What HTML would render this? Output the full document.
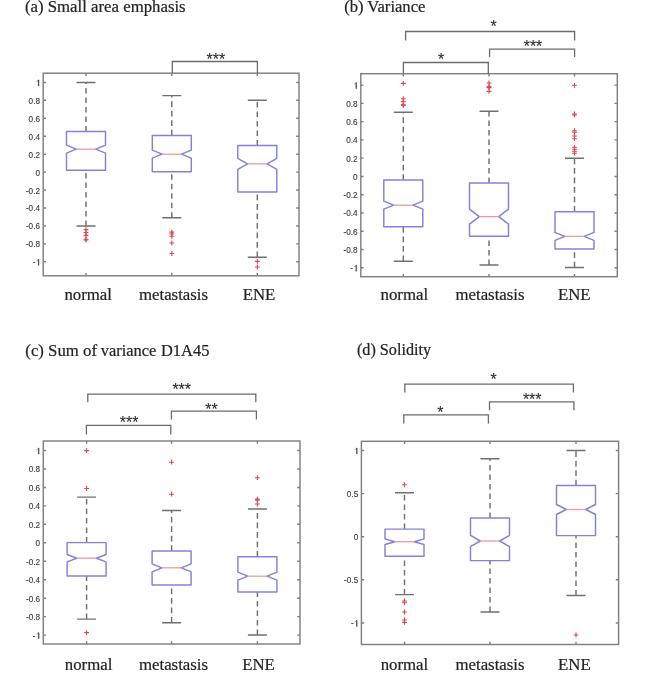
<!DOCTYPE html>
<html><head><meta charset="utf-8"><style>
html,body{margin:0;padding:0;background:#fff;}
body{width:650px;height:679px;overflow:hidden;}
svg{display:block;will-change:transform;}
.tl{font-family:"Liberation Sans",sans-serif;font-size:8.2px;fill:#3a3a3a;stroke:#3a3a3a;stroke-width:0.12px;text-anchor:end;}
.xl{font-family:"Liberation Serif",serif;font-size:16.8px;fill:#242424;stroke:#242424;stroke-width:0.22px;text-anchor:middle;}
.ttl{font-family:"Liberation Serif",serif;font-size:16.8px;fill:#242424;stroke:#242424;stroke-width:0.22px;}
.ast{font-family:"Liberation Sans",sans-serif;font-size:15.9px;fill:#2a2a2a;stroke:#2a2a2a;stroke-width:0.1px;text-anchor:middle;}
</style></head><body>
<svg width="650" height="679" viewBox="0 0 650 679">
<rect width="650" height="679" fill="#fff"/>
<rect x="43.2" y="73.2" width="255.8" height="202.6" fill="none" stroke="#808080" stroke-width="1.45"/>
<path d="M43.2 82.4h2.8M299 82.4h-2.8" stroke="#808080" stroke-width="1.45"/>
<path d="M38.27 85.9V80.03H38.97V85.9Z M38.8 80.03L36.34 81.64" fill="#3a3a3a" stroke="#3a3a3a" stroke-width="0.45"/>
<path d="M43.2 100.34h2.8M299 100.34h-2.8" stroke="#808080" stroke-width="1.45"/>
<text x="40" y="103.84" class="tl">0.8</text>
<path d="M43.2 118.28h2.8M299 118.28h-2.8" stroke="#808080" stroke-width="1.45"/>
<text x="40" y="121.78" class="tl">0.6</text>
<path d="M43.2 136.22h2.8M299 136.22h-2.8" stroke="#808080" stroke-width="1.45"/>
<text x="40" y="139.72" class="tl">0.4</text>
<path d="M43.2 154.16h2.8M299 154.16h-2.8" stroke="#808080" stroke-width="1.45"/>
<text x="40" y="157.66" class="tl">0.2</text>
<path d="M43.2 172.1h2.8M299 172.1h-2.8" stroke="#808080" stroke-width="1.45"/>
<text x="40" y="175.6" class="tl">0</text>
<path d="M43.2 190.04h2.8M299 190.04h-2.8" stroke="#808080" stroke-width="1.45"/>
<text x="40" y="193.54" class="tl">-0.2</text>
<path d="M43.2 207.98h2.8M299 207.98h-2.8" stroke="#808080" stroke-width="1.45"/>
<text x="40" y="211.48" class="tl">-0.4</text>
<path d="M43.2 225.92h2.8M299 225.92h-2.8" stroke="#808080" stroke-width="1.45"/>
<text x="40" y="229.42" class="tl">-0.6</text>
<path d="M43.2 243.86h2.8M299 243.86h-2.8" stroke="#808080" stroke-width="1.45"/>
<text x="40" y="247.36" class="tl">-0.8</text>
<path d="M43.2 261.8h2.8M299 261.8h-2.8" stroke="#808080" stroke-width="1.45"/>
<path d="M38.27 265.3V259.43H38.97V265.3Z M38.8 259.43L36.34 261.04" fill="#3a3a3a" stroke="#3a3a3a" stroke-width="0.45"/>
<text x="35.44" y="265.3" class="tl">-</text>
<path d="M86 275.8v-2.8M86 73.2v2.8" stroke="#808080" stroke-width="1.45"/>
<path d="M171.8 275.8v-2.8M171.8 73.2v2.8" stroke="#808080" stroke-width="1.45"/>
<path d="M257.3 275.8v-2.8M257.3 73.2v2.8" stroke="#808080" stroke-width="1.45"/>
<path d="M86 131.5V82.4M86 226V170.3" stroke="#707070" stroke-width="1.45" stroke-dasharray="5.6 3.9" fill="none"/>
<path d="M76.5 82.4h19M76.5 226h19" stroke="#707070" stroke-width="1.45"/>
<path d="M66.5 131.5H105.5V145.2L95.75 149.2L105.5 153.2V170.3H66.5V153.2L76.25 149.2L66.5 145.2Z" fill="none" stroke="#8581da" stroke-width="1.45" stroke-linejoin="round"/>
<path d="M76.25 149.2H95.75" stroke="#ea9a9a" stroke-width="1.3"/>
<path d="M83.6 229.6h4.8M86 227.2v4.8" stroke="#d9484f" stroke-width="1.1"/>
<path d="M83.6 232.5h4.8M86 230.1v4.8" stroke="#d9484f" stroke-width="1.1"/>
<path d="M83.6 235.4h4.8M86 233v4.8" stroke="#d9484f" stroke-width="1.1"/>
<path d="M83.6 239.2h4.8M86 236.8v4.8" stroke="#d9484f" stroke-width="1.1"/>
<path d="M83.6 240h4.8M86 237.6v4.8" stroke="#d9484f" stroke-width="1.1"/>
<path d="M171.8 135.4V95.6M171.8 217.8V171.8" stroke="#707070" stroke-width="1.45" stroke-dasharray="5.6 3.9" fill="none"/>
<path d="M162.3 95.6h19M162.3 217.8h19" stroke="#707070" stroke-width="1.45"/>
<path d="M152.3 135.4H191.3V150.2L181.55 154.2L191.3 158.2V171.8H152.3V158.2L162.05 154.2L152.3 150.2Z" fill="none" stroke="#8581da" stroke-width="1.45" stroke-linejoin="round"/>
<path d="M162.05 154.2H181.55" stroke="#ea9a9a" stroke-width="1.3"/>
<path d="M169.4 232.1h4.8M171.8 229.7v4.8" stroke="#d9484f" stroke-width="1.1"/>
<path d="M169.4 234h4.8M171.8 231.6v4.8" stroke="#d9484f" stroke-width="1.1"/>
<path d="M169.4 236.3h4.8M171.8 233.9v4.8" stroke="#d9484f" stroke-width="1.1"/>
<path d="M169.4 243h4.8M171.8 240.6v4.8" stroke="#d9484f" stroke-width="1.1"/>
<path d="M169.4 253.5h4.8M171.8 251.1v4.8" stroke="#d9484f" stroke-width="1.1"/>
<path d="M257.3 145.5V100.3M257.3 257.2V192" stroke="#707070" stroke-width="1.45" stroke-dasharray="5.6 3.9" fill="none"/>
<path d="M247.8 100.3h19M247.8 257.2h19" stroke="#707070" stroke-width="1.45"/>
<path d="M237.8 145.5H276.8V158.3L267.05 163.8L276.8 169.3V192H237.8V169.3L247.55 163.8L237.8 158.3Z" fill="none" stroke="#8581da" stroke-width="1.45" stroke-linejoin="round"/>
<path d="M247.55 163.8H267.05" stroke="#ea9a9a" stroke-width="1.3"/>
<path d="M254.9 261.4h4.8M257.3 259v4.8" stroke="#d9484f" stroke-width="1.1"/>
<path d="M254.9 267h4.8M257.3 264.6v4.8" stroke="#d9484f" stroke-width="1.1"/>
<path d="M172.3 73.2V61.5H257.4V73.2" fill="none" stroke="#6b6b6b" stroke-width="1.3"/>
<text x="215.8" y="65" class="ast">***</text>
<text x="88.2" y="299.6" class="xl">normal</text>
<text x="173.5" y="299.6" class="xl">metastasis</text>
<text x="259" y="299.6" class="xl">ENE</text>
<text x="24.9" y="12" class="ttl">(a) Small area emphasis</text>
<rect x="360.8" y="73.7" width="256.5" height="203" fill="none" stroke="#808080" stroke-width="1.45"/>
<path d="M360.8 85.1h2.8M617.3 85.1h-2.8" stroke="#808080" stroke-width="1.45"/>
<path d="M355.87 88.6V82.73H356.57V88.6Z M356.4 82.73L353.94 84.34" fill="#3a3a3a" stroke="#3a3a3a" stroke-width="0.45"/>
<path d="M360.8 103.36h2.8M617.3 103.36h-2.8" stroke="#808080" stroke-width="1.45"/>
<text x="357.6" y="106.86" class="tl">0.8</text>
<path d="M360.8 121.62h2.8M617.3 121.62h-2.8" stroke="#808080" stroke-width="1.45"/>
<text x="357.6" y="125.12" class="tl">0.6</text>
<path d="M360.8 139.88h2.8M617.3 139.88h-2.8" stroke="#808080" stroke-width="1.45"/>
<text x="357.6" y="143.38" class="tl">0.4</text>
<path d="M360.8 158.14h2.8M617.3 158.14h-2.8" stroke="#808080" stroke-width="1.45"/>
<text x="357.6" y="161.64" class="tl">0.2</text>
<path d="M360.8 176.4h2.8M617.3 176.4h-2.8" stroke="#808080" stroke-width="1.45"/>
<text x="357.6" y="179.9" class="tl">0</text>
<path d="M360.8 194.66h2.8M617.3 194.66h-2.8" stroke="#808080" stroke-width="1.45"/>
<text x="357.6" y="198.16" class="tl">-0.2</text>
<path d="M360.8 212.92h2.8M617.3 212.92h-2.8" stroke="#808080" stroke-width="1.45"/>
<text x="357.6" y="216.42" class="tl">-0.4</text>
<path d="M360.8 231.18h2.8M617.3 231.18h-2.8" stroke="#808080" stroke-width="1.45"/>
<text x="357.6" y="234.68" class="tl">-0.6</text>
<path d="M360.8 249.44h2.8M617.3 249.44h-2.8" stroke="#808080" stroke-width="1.45"/>
<text x="357.6" y="252.94" class="tl">-0.8</text>
<path d="M360.8 267.7h2.8M617.3 267.7h-2.8" stroke="#808080" stroke-width="1.45"/>
<path d="M355.87 271.2V265.33H356.57V271.2Z M356.4 265.33L353.94 266.94" fill="#3a3a3a" stroke="#3a3a3a" stroke-width="0.45"/>
<text x="353.04" y="271.2" class="tl">-</text>
<path d="M403.3 276.7v-2.8M403.3 73.7v2.8" stroke="#808080" stroke-width="1.45"/>
<path d="M489 276.7v-2.8M489 73.7v2.8" stroke="#808080" stroke-width="1.45"/>
<path d="M574.5 276.7v-2.8M574.5 73.7v2.8" stroke="#808080" stroke-width="1.45"/>
<path d="M403.3 179.9V112.2M403.3 261.2V226.8" stroke="#707070" stroke-width="1.45" stroke-dasharray="5.6 3.9" fill="none"/>
<path d="M393.8 112.2h19M393.8 261.2h19" stroke="#707070" stroke-width="1.45"/>
<path d="M383.8 179.9H422.8V201.2L413.05 205.2L422.8 209.2V226.8H383.8V209.2L393.55 205.2L383.8 201.2Z" fill="none" stroke="#8581da" stroke-width="1.45" stroke-linejoin="round"/>
<path d="M393.55 205.2H413.05" stroke="#ea9a9a" stroke-width="1.3"/>
<path d="M400.9 83.4h4.8M403.3 81v4.8" stroke="#d9484f" stroke-width="1.1"/>
<path d="M400.9 98.7h4.8M403.3 96.3v4.8" stroke="#d9484f" stroke-width="1.1"/>
<path d="M400.9 101.6h4.8M403.3 99.2v4.8" stroke="#d9484f" stroke-width="1.1"/>
<path d="M400.9 104.8h4.8M403.3 102.4v4.8" stroke="#d9484f" stroke-width="1.1"/>
<path d="M400.9 105.4h4.8M403.3 103v4.8" stroke="#d9484f" stroke-width="1.1"/>
<path d="M489 183V111.2M489 265V236.3" stroke="#707070" stroke-width="1.45" stroke-dasharray="5.6 3.9" fill="none"/>
<path d="M479.5 111.2h19M479.5 265h19" stroke="#707070" stroke-width="1.45"/>
<path d="M469.5 183H508.5V209.1L498.75 216.6L508.5 224.1V236.3H469.5V224.1L479.25 216.6L469.5 209.1Z" fill="none" stroke="#8581da" stroke-width="1.45" stroke-linejoin="round"/>
<path d="M479.25 216.6H498.75" stroke="#ea9a9a" stroke-width="1.3"/>
<path d="M486.6 83h4.8M489 80.6v4.8" stroke="#d9484f" stroke-width="1.1"/>
<path d="M486.6 86.6h4.8M489 84.2v4.8" stroke="#d9484f" stroke-width="1.1"/>
<path d="M486.6 87.6h4.8M489 85.2v4.8" stroke="#d9484f" stroke-width="1.1"/>
<path d="M486.6 91.4h4.8M489 89v4.8" stroke="#d9484f" stroke-width="1.1"/>
<path d="M574.5 211.7V158.2M574.5 267.4V249" stroke="#707070" stroke-width="1.45" stroke-dasharray="5.6 3.9" fill="none"/>
<path d="M565 158.2h19M565 267.4h19" stroke="#707070" stroke-width="1.45"/>
<path d="M555 211.7H594V232.4L584.25 236.4L594 240.4V249H555V240.4L564.75 236.4L555 232.4Z" fill="none" stroke="#8581da" stroke-width="1.45" stroke-linejoin="round"/>
<path d="M564.75 236.4H584.25" stroke="#ea9a9a" stroke-width="1.3"/>
<path d="M572.1 85.3h4.8M574.5 82.9v4.8" stroke="#d9484f" stroke-width="1.1"/>
<path d="M572.1 114h4.8M574.5 111.6v4.8" stroke="#d9484f" stroke-width="1.1"/>
<path d="M572.1 115h4.8M574.5 112.6v4.8" stroke="#d9484f" stroke-width="1.1"/>
<path d="M572.1 130.7h4.8M574.5 128.3v4.8" stroke="#d9484f" stroke-width="1.1"/>
<path d="M572.1 132.3h4.8M574.5 129.9v4.8" stroke="#d9484f" stroke-width="1.1"/>
<path d="M572.1 136h4.8M574.5 133.6v4.8" stroke="#d9484f" stroke-width="1.1"/>
<path d="M572.1 138.7h4.8M574.5 136.3v4.8" stroke="#d9484f" stroke-width="1.1"/>
<path d="M572.1 147.3h4.8M574.5 144.9v4.8" stroke="#d9484f" stroke-width="1.1"/>
<path d="M572.1 149.3h4.8M574.5 146.9v4.8" stroke="#d9484f" stroke-width="1.1"/>
<path d="M572.1 151.3h4.8M574.5 148.9v4.8" stroke="#d9484f" stroke-width="1.1"/>
<path d="M572.1 153.2h4.8M574.5 150.8v4.8" stroke="#d9484f" stroke-width="1.1"/>
<path d="M405.6 40.5V31.5H574.6V40.5" fill="none" stroke="#6b6b6b" stroke-width="1.3"/>
<text x="493.5" y="32.1" class="ast">*</text>
<path d="M403.4 73.7V62.5H488.3V73.7" fill="none" stroke="#6b6b6b" stroke-width="1.3"/>
<text x="441" y="65.3" class="ast">*</text>
<path d="M489.6 57V49.2H574.6V57" fill="none" stroke="#6b6b6b" stroke-width="1.3"/>
<text x="533" y="52" class="ast">***</text>
<text x="404.3" y="299.6" class="xl">normal</text>
<text x="490" y="299.6" class="xl">metastasis</text>
<text x="574.2" y="299.6" class="xl">ENE</text>
<text x="344.2" y="12" class="ttl" textLength="81.2" lengthAdjust="spacingAndGlyphs">(b) Variance</text>
<rect x="43.3" y="441" width="256.7" height="203" fill="none" stroke="#808080" stroke-width="1.45"/>
<path d="M43.3 450.5h2.8M300 450.5h-2.8" stroke="#808080" stroke-width="1.45"/>
<path d="M38.37 454V448.13H39.07V454Z M38.9 448.13L36.44 449.74" fill="#3a3a3a" stroke="#3a3a3a" stroke-width="0.45"/>
<path d="M43.3 468.96h2.8M300 468.96h-2.8" stroke="#808080" stroke-width="1.45"/>
<text x="40.1" y="472.46" class="tl">0.8</text>
<path d="M43.3 487.42h2.8M300 487.42h-2.8" stroke="#808080" stroke-width="1.45"/>
<text x="40.1" y="490.92" class="tl">0.6</text>
<path d="M43.3 505.88h2.8M300 505.88h-2.8" stroke="#808080" stroke-width="1.45"/>
<text x="40.1" y="509.38" class="tl">0.4</text>
<path d="M43.3 524.34h2.8M300 524.34h-2.8" stroke="#808080" stroke-width="1.45"/>
<text x="40.1" y="527.84" class="tl">0.2</text>
<path d="M43.3 542.8h2.8M300 542.8h-2.8" stroke="#808080" stroke-width="1.45"/>
<text x="40.1" y="546.3" class="tl">0</text>
<path d="M43.3 561.26h2.8M300 561.26h-2.8" stroke="#808080" stroke-width="1.45"/>
<text x="40.1" y="564.76" class="tl">-0.2</text>
<path d="M43.3 579.72h2.8M300 579.72h-2.8" stroke="#808080" stroke-width="1.45"/>
<text x="40.1" y="583.22" class="tl">-0.4</text>
<path d="M43.3 598.18h2.8M300 598.18h-2.8" stroke="#808080" stroke-width="1.45"/>
<text x="40.1" y="601.68" class="tl">-0.6</text>
<path d="M43.3 616.64h2.8M300 616.64h-2.8" stroke="#808080" stroke-width="1.45"/>
<text x="40.1" y="620.14" class="tl">-0.8</text>
<path d="M43.3 635.1h2.8M300 635.1h-2.8" stroke="#808080" stroke-width="1.45"/>
<path d="M38.37 638.6V632.73H39.07V638.6Z M38.9 632.73L36.44 634.34" fill="#3a3a3a" stroke="#3a3a3a" stroke-width="0.45"/>
<text x="35.54" y="638.6" class="tl">-</text>
<path d="M86.6 644v-2.8M86.6 441v2.8" stroke="#808080" stroke-width="1.45"/>
<path d="M171.6 644v-2.8M171.6 441v2.8" stroke="#808080" stroke-width="1.45"/>
<path d="M257.4 644v-2.8M257.4 441v2.8" stroke="#808080" stroke-width="1.45"/>
<path d="M86.6 542.6V497.1M86.6 619.1V575.9" stroke="#707070" stroke-width="1.45" stroke-dasharray="5.6 3.9" fill="none"/>
<path d="M77.1 497.1h19M77.1 619.1h19" stroke="#707070" stroke-width="1.45"/>
<path d="M67.1 542.6H106.1V554.5L96.35 558.2L106.1 561.9V575.9H67.1V561.9L76.85 558.2L67.1 554.5Z" fill="none" stroke="#8581da" stroke-width="1.45" stroke-linejoin="round"/>
<path d="M76.85 558.2H96.35" stroke="#ea9a9a" stroke-width="1.3"/>
<path d="M84.2 450.6h4.8M86.6 448.2v4.8" stroke="#d9484f" stroke-width="1.1"/>
<path d="M84.2 488.5h4.8M86.6 486.1v4.8" stroke="#d9484f" stroke-width="1.1"/>
<path d="M84.2 632.6h4.8M86.6 630.2v4.8" stroke="#d9484f" stroke-width="1.1"/>
<path d="M171.6 550.9V510.5M171.6 622.7V584.9" stroke="#707070" stroke-width="1.45" stroke-dasharray="5.6 3.9" fill="none"/>
<path d="M162.1 510.5h19M162.1 622.7h19" stroke="#707070" stroke-width="1.45"/>
<path d="M152.1 550.9H191.1V563.8L181.35 567.8L191.1 571.8V584.9H152.1V571.8L161.85 567.8L152.1 563.8Z" fill="none" stroke="#8581da" stroke-width="1.45" stroke-linejoin="round"/>
<path d="M161.85 567.8H181.35" stroke="#ea9a9a" stroke-width="1.3"/>
<path d="M169.2 462.2h4.8M171.6 459.8v4.8" stroke="#d9484f" stroke-width="1.1"/>
<path d="M169.2 494.2h4.8M171.6 491.8v4.8" stroke="#d9484f" stroke-width="1.1"/>
<path d="M257.4 556.7V509M257.4 635V592" stroke="#707070" stroke-width="1.45" stroke-dasharray="5.6 3.9" fill="none"/>
<path d="M247.9 509h19M247.9 635h19" stroke="#707070" stroke-width="1.45"/>
<path d="M237.9 556.7H276.9V572.2L267.15 576.2L276.9 580.2V592H237.9V580.2L247.65 576.2L237.9 572.2Z" fill="none" stroke="#8581da" stroke-width="1.45" stroke-linejoin="round"/>
<path d="M247.65 576.2H267.15" stroke="#ea9a9a" stroke-width="1.3"/>
<path d="M255 477.7h4.8M257.4 475.3v4.8" stroke="#d9484f" stroke-width="1.1"/>
<path d="M255 499.1h4.8M257.4 496.7v4.8" stroke="#d9484f" stroke-width="1.1"/>
<path d="M255 500.3h4.8M257.4 497.9v4.8" stroke="#d9484f" stroke-width="1.1"/>
<path d="M255 504h4.8M257.4 501.6v4.8" stroke="#d9484f" stroke-width="1.1"/>
<path d="M87.8 402.2V394.2H255.8V402.2" fill="none" stroke="#6b6b6b" stroke-width="1.3"/>
<text x="181.7" y="395.2" class="ast">***</text>
<path d="M86.4 434.5V425.4H170.8V434.5" fill="none" stroke="#6b6b6b" stroke-width="1.3"/>
<text x="129.1" y="428.1" class="ast">***</text>
<path d="M171.4 419.4V411.2H256.4V419.4" fill="none" stroke="#6b6b6b" stroke-width="1.3"/>
<text x="211.5" y="414.8" class="ast">**</text>
<text x="88.6" y="669.6" class="xl">normal</text>
<text x="173.5" y="669.6" class="xl">metastasis</text>
<text x="258.5" y="669.6" class="xl">ENE</text>
<rect x="361.4" y="441.3" width="257.2" height="203.2" fill="none" stroke="#808080" stroke-width="1.45"/>
<path d="M361.4 450.5h2.8M618.6 450.5h-2.8" stroke="#808080" stroke-width="1.45"/>
<path d="M356.47 454V448.13H357.17V454Z M357 448.13L354.54 449.74" fill="#3a3a3a" stroke="#3a3a3a" stroke-width="0.45"/>
<path d="M361.4 493.6h2.8M618.6 493.6h-2.8" stroke="#808080" stroke-width="1.45"/>
<text x="358.2" y="497.1" class="tl">0.5</text>
<path d="M361.4 536.7h2.8M618.6 536.7h-2.8" stroke="#808080" stroke-width="1.45"/>
<text x="358.2" y="540.2" class="tl">0</text>
<path d="M361.4 579.8h2.8M618.6 579.8h-2.8" stroke="#808080" stroke-width="1.45"/>
<text x="358.2" y="583.3" class="tl">-0.5</text>
<path d="M361.4 622.9h2.8M618.6 622.9h-2.8" stroke="#808080" stroke-width="1.45"/>
<path d="M356.47 626.4V620.53H357.17V626.4Z M357 620.53L354.54 622.14" fill="#3a3a3a" stroke="#3a3a3a" stroke-width="0.45"/>
<text x="353.64" y="626.4" class="tl">-</text>
<path d="M404.5 644.5v-2.8M404.5 441.3v2.8" stroke="#808080" stroke-width="1.45"/>
<path d="M490 644.5v-2.8M490 441.3v2.8" stroke="#808080" stroke-width="1.45"/>
<path d="M576 644.5v-2.8M576 441.3v2.8" stroke="#808080" stroke-width="1.45"/>
<path d="M404.5 529.1V492.7M404.5 594.6V556.2" stroke="#707070" stroke-width="1.45" stroke-dasharray="5.6 3.9" fill="none"/>
<path d="M395 492.7h19M395 594.6h19" stroke="#707070" stroke-width="1.45"/>
<path d="M385 529.1H424V538.9L414.25 541.7L424 544.5V556.2H385V544.5L394.75 541.7L385 538.9Z" fill="none" stroke="#8581da" stroke-width="1.45" stroke-linejoin="round"/>
<path d="M394.75 541.7H414.25" stroke="#ea9a9a" stroke-width="1.3"/>
<path d="M402.1 484.8h4.8M404.5 482.4v4.8" stroke="#d9484f" stroke-width="1.1"/>
<path d="M402.1 601h4.8M404.5 598.6v4.8" stroke="#d9484f" stroke-width="1.1"/>
<path d="M402.1 602.7h4.8M404.5 600.3v4.8" stroke="#d9484f" stroke-width="1.1"/>
<path d="M402.1 612h4.8M404.5 609.6v4.8" stroke="#d9484f" stroke-width="1.1"/>
<path d="M402.1 620h4.8M404.5 617.6v4.8" stroke="#d9484f" stroke-width="1.1"/>
<path d="M402.1 622.4h4.8M404.5 620v4.8" stroke="#d9484f" stroke-width="1.1"/>
<path d="M490 518V458.8M490 612V560.6" stroke="#707070" stroke-width="1.45" stroke-dasharray="5.6 3.9" fill="none"/>
<path d="M480.5 458.8h19M480.5 612h19" stroke="#707070" stroke-width="1.45"/>
<path d="M470.5 518H509.5V535.3L499.75 541L509.5 546.7V560.6H470.5V546.7L480.25 541L470.5 535.3Z" fill="none" stroke="#8581da" stroke-width="1.45" stroke-linejoin="round"/>
<path d="M480.25 541H499.75" stroke="#ea9a9a" stroke-width="1.3"/>
<path d="M576 485.4V450.4M576 595.5V535.6" stroke="#707070" stroke-width="1.45" stroke-dasharray="5.6 3.9" fill="none"/>
<path d="M566.5 450.4h19M566.5 595.5h19" stroke="#707070" stroke-width="1.45"/>
<path d="M556.5 485.4H595.5V504.5L585.75 509.5L595.5 514.5V535.6H556.5V514.5L566.25 509.5L556.5 504.5Z" fill="none" stroke="#8581da" stroke-width="1.45" stroke-linejoin="round"/>
<path d="M566.25 509.5H585.75" stroke="#ea9a9a" stroke-width="1.3"/>
<path d="M573.6 635h4.8M576 632.6v4.8" stroke="#d9484f" stroke-width="1.1"/>
<path d="M404.8 392.5V384.2H573.4V392.5" fill="none" stroke="#6b6b6b" stroke-width="1.3"/>
<text x="493.6" y="384.8" class="ast">*</text>
<path d="M403.8 423.5V414.8H488.4V423.5" fill="none" stroke="#6b6b6b" stroke-width="1.3"/>
<text x="440.4" y="418" class="ast">*</text>
<path d="M489.5 410.2V401.9H573.9V410.2" fill="none" stroke="#6b6b6b" stroke-width="1.3"/>
<text x="532.2" y="404.8" class="ast">***</text>
<text x="404.4" y="669.6" class="xl">normal</text>
<text x="490" y="669.6" class="xl">metastasis</text>
<text x="574.4" y="669.6" class="xl">ENE</text>
<text x="356.9" y="355.2" class="ttl" textLength="74.2" lengthAdjust="spacingAndGlyphs">(d) Solidity</text>
<text y="356.1" class="ttl"><tspan x="25.3">(c) Sum</tspan><tspan x="83">of</tspan></text>
<text y="356.1" x="100.8" class="ttl" textLength="55.5" lengthAdjust="spacingAndGlyphs">variance</text>
<text y="356.1" x="161" class="ttl" textLength="48.35" lengthAdjust="spacingAndGlyphs">D1A45</text>
</svg>
</body></html>
